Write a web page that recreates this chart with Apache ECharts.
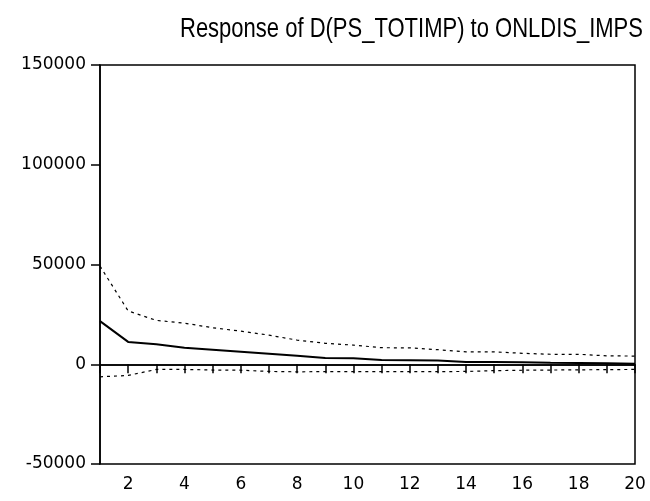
<!DOCTYPE html>
<html>
<head>
<meta charset="utf-8">
<script src="https://cdn.jsdelivr.net/npm/echarts@6/dist/echarts.min.js"></script>
<style>
  html, body { margin: 0; padding: 0; background: #fff; }
  #chart { width: 650px; height: 501px; }
</style>
</head>
<body>
<div id="chart"></div>
<script>
// Impulse response over 20 periods with +/- 2 S.E. bands
const periods = [1, 2, 3, 4, 5, 6, 7, 8, 9, 10, 11, 12, 13, 14, 15, 16, 17, 18, 19, 20];
const response = [21600, 11200, 10000, 8300, 7300, 6300, 5300, 4200, 3100, 3000, 2100, 2000, 1900, 1100, 1100, 1000, 700, 600, 500, 300];
const upperBand = [49200, 26700, 22000, 20600, 18300, 16600, 14600, 12100, 10500, 9600, 8300, 8200, 7300, 6200, 6200, 5500, 5000, 5000, 4200, 4100];
const lowerBand = [-6300, -5600, -2600, -2600, -2900, -3000, -3600, -3800, -3700, -3700, -3700, -3700, -3700, -3600, -3200, -3000, -2900, -2800, -2700, -2600];
const yTicks = { min: -50000, max: 150000, step: 50000 };
const titleText = 'Response of D(PS_TOTIMP) to ONLDIS_IMPS';

const pair = (vals) => periods.map((p, i) => [p, vals[i]]);
const labelFont = { fontFamily: 'DejaVu Sans', fontSize: 17, color: '#000' };

const chart = echarts.init(document.getElementById('chart'), null, { renderer: 'canvas' });
chart.setOption({
  animation: false,
  backgroundColor: '#fff',
  // Title drawn as a slightly tall, condensed-looking heading
  graphic: [{
    type: 'text',
    x: 180,
    y: 43,
    scaleY: 1.25,
    silent: true,
    style: {
      text: titleText,
      font: '22px "Liberation Sans", Arial, sans-serif',
      fill: '#000',
      textAlign: 'left',
      textVerticalAlign: 'bottom',
      textBaseline: 'alphabetic'
    }
  }],
  grid: {
    left: 100, right: 15, top: 65, bottom: 37,
    show: true, borderColor: '#000', borderWidth: 1.5, backgroundColor: '#fff'
  },
  xAxis: {
    type: 'value', min: 1, max: 20, interval: 1,
    axisLine: { lineStyle: { color: '#000', width: 1.5 } },
    axisTick: { length: 9, lineStyle: { color: '#000', width: 1.5 } },
    axisLabel: Object.assign({ margin: 12, formatter: (v) => (v % 2 === 0 ? String(v) : '') }, labelFont),
    splitLine: { show: false }
  },
  yAxis: {
    type: 'value', min: yTicks.min, max: yTicks.max, interval: yTicks.step,
    axisLine: { show: true, lineStyle: { color: '#000', width: 1.5 } },
    axisTick: { show: true, length: 9, lineStyle: { color: '#000', width: 1.5 } },
    axisLabel: Object.assign({ margin: 14, formatter: (v) => String(v) }, labelFont),
    splitLine: { show: false }
  },
  series: [
    {
      name: 'response', type: 'line', data: pair(response), symbol: 'none',
      lineStyle: { color: '#000', width: 2 },
      markLine: {
        silent: true, symbol: 'none', label: { show: false },
        lineStyle: { color: '#000', width: 1.5, type: 'solid' },
        data: [{ yAxis: 0 }]
      }
    },
    {
      name: 'upper', type: 'line', data: pair(upperBand), symbol: 'none',
      lineStyle: { color: '#000', width: 1.2, type: [3, 4] }
    },
    {
      name: 'lower', type: 'line', data: pair(lowerBand), symbol: 'none',
      lineStyle: { color: '#000', width: 1.2, type: [3, 4] }
    }
  ]
});
</script>
</body>
</html>
